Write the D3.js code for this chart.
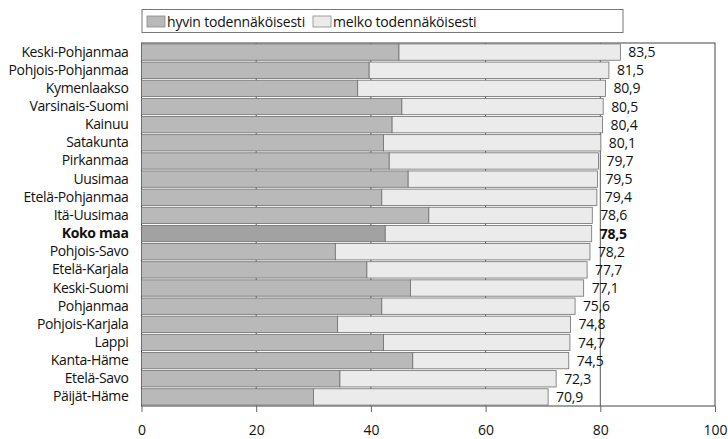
<!DOCTYPE html>
<html><head><meta charset="utf-8">
<script src="https://cdn.jsdelivr.net/npm/d3@7"></script>
<style>body{margin:0;background:#fff}svg{display:block}text{font-family:"Open Sans",sans-serif;fill:#111}</style>
</head><body><svg id="c" width="728" height="439"></svg>
<script>
const regions = ["Keski-Pohjanmaa","Pohjois-Pohjanmaa","Kymenlaakso","Varsinais-Suomi","Kainuu","Satakunta","Pirkanmaa","Uusimaa","Etelä-Pohjanmaa","Itä-Uusimaa","Koko maa","Pohjois-Savo","Etelä-Karjala","Keski-Suomi","Pohjanmaa","Pohjois-Karjala","Lappi","Kanta-Häme","Etelä-Savo","Päijät-Häme"];
const hyvin = [44.9,39.7,37.7,45.4,43.7,42.2,43.2,46.5,41.9,50.1,42.5,33.8,39.3,46.9,41.9,34.2,42.2,47.3,34.6,30.0];
const total = [83.5,81.5,80.9,80.5,80.4,80.1,79.7,79.5,79.4,78.6,78.5,78.2,77.7,77.1,75.6,74.8,74.7,74.5,72.3,70.9];
const ticks = [0,20,40,60,80,100];
const seriesNames = ["hyvin todennäköisesti","melko todennäköisesti"];
const highlight = "Koko maa";

const svg = d3.select("#c");
const m = {l:141.5, r:715, t:43, b:406};
const x = d3.scaleLinear().domain([0,100]).range([m.l,m.r]);
const y = d3.scaleBand().domain(regions).range([m.t,m.b]).paddingInner(0.1).paddingOuter(0.05);

// gridlines
svg.append("g").selectAll("line").data(ticks.slice(1,5)).join("line")
  .attr("x1",d=>x(d)).attr("x2",d=>x(d)).attr("y1",m.t).attr("y2",m.b)
  .attr("stroke","#555").attr("stroke-width",1);
// frame
svg.append("rect").attr("x",m.l).attr("y",m.t).attr("width",m.r-m.l).attr("height",m.b-m.t)
  .attr("fill","none").attr("stroke","#444").attr("stroke-width",1);

const data = regions.map((r,i)=>({r,h:hyvin[i],t:total[i]}));
const g = svg.append("g");
g.selectAll("rect.h").data(data).join("rect").attr("class","h")
  .attr("x",x(0)).attr("y",d=>y(d.r)).attr("width",d=>x(d.h)-x(0)).attr("height",y.bandwidth())
  .attr("fill",d=>d.r===highlight?"#a2a2a2":"#b9b9b9").attr("stroke","#6e6e6e").attr("stroke-width",0.8);
g.selectAll("rect.m").data(data).join("rect").attr("class","m")
  .attr("x",d=>x(d.h)).attr("y",d=>y(d.r)).attr("width",d=>x(d.t)-x(d.h)).attr("height",y.bandwidth())
  .attr("fill","#ebebeb").attr("stroke","#6e6e6e").attr("stroke-width",0.8);

// value labels
g.selectAll("text.v").data(data).join("text").attr("class","v")
  .attr("x",d=>x(d.t)+8).attr("y",d=>y(d.r)+y.bandwidth()/2).attr("dy","0.36em")
  .attr("font-size",14).attr("letter-spacing",-0.2).attr("font-weight",d=>d.r===highlight?"bold":"normal")
  .text(d=>d3.format(".1f")(d.t).replace(".",","));

// category axis
const ya = svg.append("g").attr("transform",`translate(${m.l},0)`)
  .call(d3.axisLeft(y).tickSize(0).tickPadding(13));
ya.select(".domain").remove();
ya.selectAll("text").attr("font-size",14).attr("letter-spacing",-0.35).style("font-family","'Open Sans',sans-serif").attr("fill","#111")
  .attr("font-weight",d=>d===highlight?"bold":"normal");

// x axis
const xa = svg.append("g").attr("transform",`translate(0,${m.b})`)
  .call(d3.axisBottom(x).tickValues(ticks).tickSize(6).tickPadding(13).tickFormat(d3.format("d")));
xa.select(".domain").remove();
xa.selectAll("line").attr("stroke","#666");
xa.selectAll("text").attr("font-size",14).style("font-family","'Open Sans',sans-serif").attr("fill","#111");

// legend
const lg = svg.append("g");
lg.append("rect").attr("x",142).attr("y",9.5).attr("width",481).attr("height",23)
  .attr("fill","#fff").attr("stroke","#777");
const lx = [147,313];
const lf = ["#b9b9b9","#ebebeb"];
seriesNames.forEach((s,i)=>{
  lg.append("rect").attr("x",lx[i]).attr("y",16).attr("width",18).attr("height",11)
    .attr("fill",lf[i]).attr("stroke","#888").attr("stroke-width",0.8);
  lg.append("text").attr("x",lx[i]+20).attr("y",21.5).attr("dy","0.36em").attr("font-size",14).attr("letter-spacing",-0.2).text(s);
});
</script></body></html>
